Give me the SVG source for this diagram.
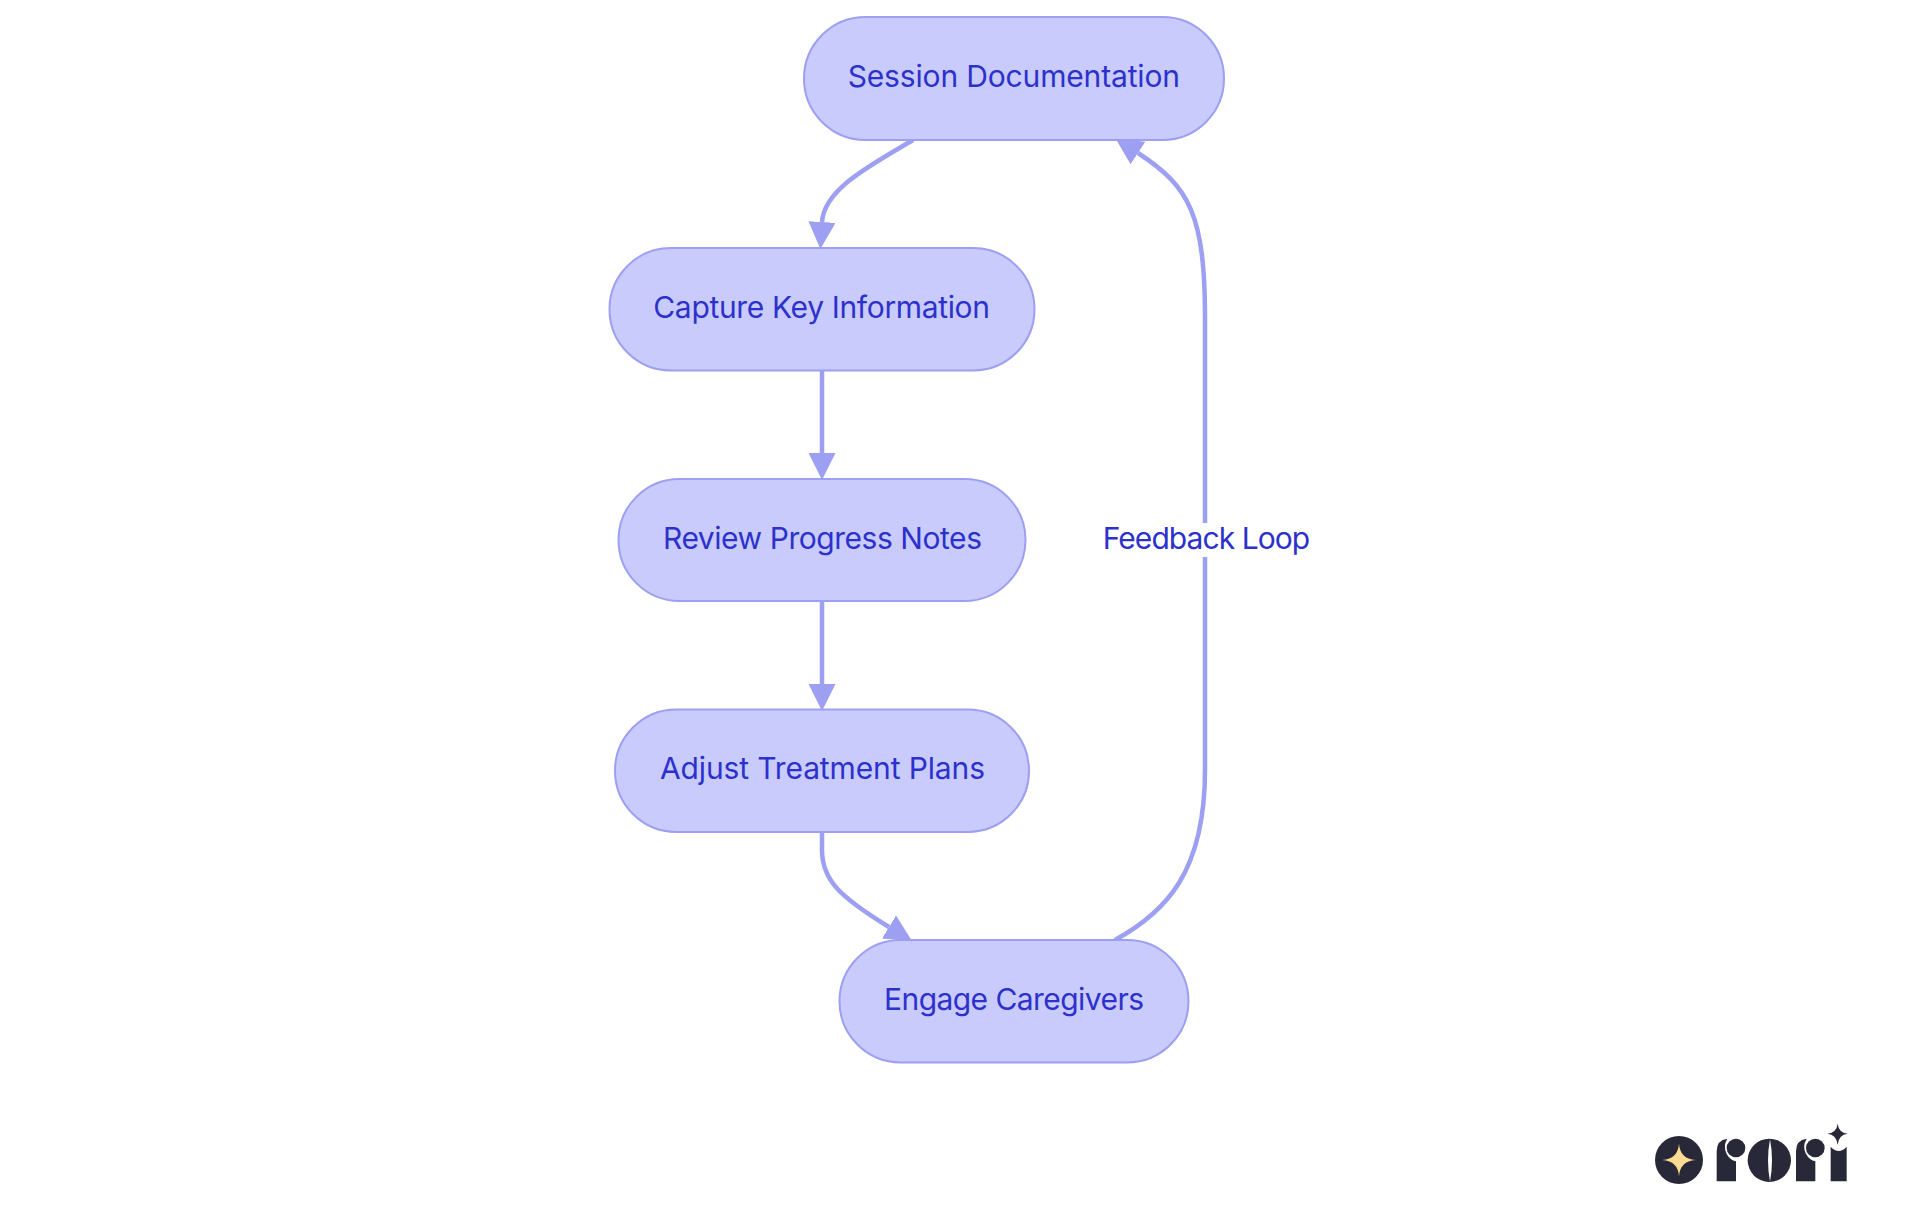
<svg xmlns="http://www.w3.org/2000/svg" width="1920" height="1215" viewBox="0 0 1920 1215">
<style>
.n{fill:#C9CBFD;stroke:#9C9FF2;stroke-width:2}
.t{font-family:Inter,"Noto Sans","Liberation Sans",sans-serif;font-size:30px;fill:#2D31CC;font-weight:400}
.e{fill:none;stroke:#9C9FF2;stroke-width:4.5}
.d{fill:#282838}
</style>
<defs>
<marker id="arrow" viewBox="0 0 10 10" refX="0" refY="5" markerUnits="userSpaceOnUse" markerWidth="27" markerHeight="27" orient="auto"><path d="M0,0L10,5L0,10z" fill="#9C9FF2"/></marker>
</defs>
<rect width="1920" height="1215" fill="#FFFFFF"/>
<g id="connectors">
<path class="e" marker-end="url(#arrow)" d="M913,140C871,165 824,189 822,222"/>
<path class="e" marker-end="url(#arrow)" d="M822,370V453"/>
<path class="e" marker-end="url(#arrow)" d="M822,601V684"/>
<path class="e" marker-end="url(#arrow)" d="M822,832V850C822,880 840,897 889,927"/>
<path class="e" marker-end="url(#arrow)" d="M1115,940C1166,912 1205,872 1205,770V320C1205,215 1190,187 1138,153"/>
</g>
<g id="edge-label">
<rect x="1100" y="523" width="212" height="34" fill="#FFFFFF"/>
<text class="t" x="1102.7" y="549" textLength="207.5">Feedback Loop</text>
</g>
<g id="session"><rect class="n" x="804" y="17" width="420" height="123" rx="61.5"/><text class="t" x="847.7" y="87" textLength="332.3">Session Documentation</text></g>
<g id="capture"><rect class="n" x="609.5" y="248" width="425" height="122.5" rx="61.25"/><text class="t" x="653.3" y="318" textLength="336.7">Capture Key Information</text></g>
<g id="review"><rect class="n" x="618.5" y="479" width="407" height="122" rx="61"/><text class="t" x="663" y="549" textLength="319">Review Progress Notes</text></g>
<g id="adjust"><rect class="n" x="615" y="709.5" width="414" height="122.5" rx="61.25"/><text class="t" x="660" y="779" textLength="325">Adjust Treatment Plans</text></g>
<g id="engage"><rect class="n" x="839.5" y="940" width="349" height="122.5" rx="61.25"/><text class="t" x="884" y="1010" textLength="260">Engage Caregivers</text></g>
<g id="logo">
<circle class="d" cx="1679" cy="1160" r="24"/>
<path fill="#FDDC92" d="M1679,1143.5Q1680,1159 1695.5,1160Q1680,1161 1679,1176.500Q1678,1161 1662.500,1160Q1678,1159 1679,1143.500z"/>
<g transform="translate(1710,1118) scale(.33333)">
<g id="logo-r1"><circle class="d" cx="78" cy="90" r="28"/><path class="d" d="M20,190V100Q20,66 52,62Q38,85 50,108Q60,126 78,130V190z"/></g>
<ellipse class="d" cx="178" cy="127" rx="65" ry="65"/>
<path fill="#FFFFFF" d="M180,64Q168,127 180,191Q192,127 180,64z"/>
<g transform="translate(238,0)"><circle class="d" cx="78" cy="90" r="28"/><path class="d" d="M20,190V100Q20,66 52,62Q38,85 50,108Q60,126 78,130V190z"/></g>
<path class="d" d="M362,190V86Q386,112 410,86V190z"/>
<path class="d" d="M383,17Q386,44 413,47Q386,50 383,80Q380,50 352,47Q380,44 383,17z"/>
</g>
</g>
</svg>
